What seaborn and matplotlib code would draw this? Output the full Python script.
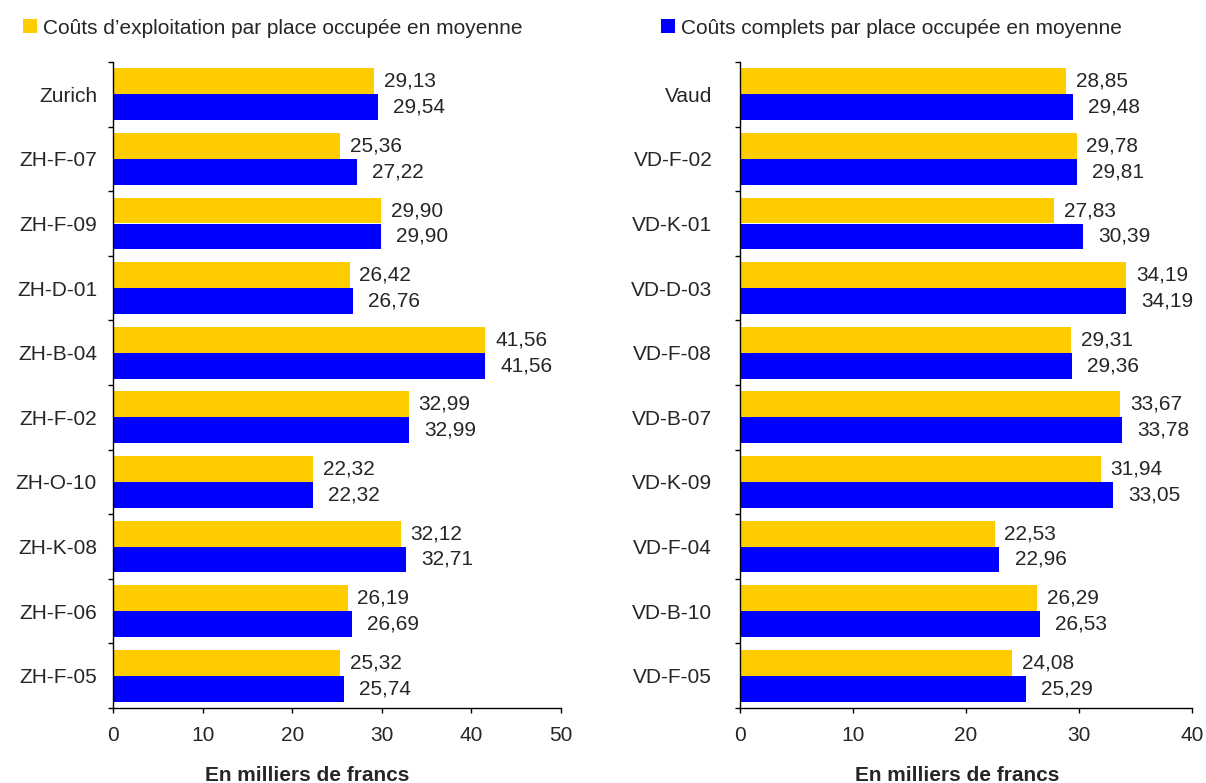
import matplotlib
matplotlib.use("Agg")
import matplotlib.pyplot as plt
from matplotlib.patches import Patch
from matplotlib.ticker import FixedLocator
import numpy as np
import pandas as pd
import seaborn as sns

# --- data (thousands of CHF per occupied place) ---
zh_sites = ["Zurich", "ZH-F-07", "ZH-F-09", "ZH-D-01", "ZH-B-04",
            "ZH-F-02", "ZH-O-10", "ZH-K-08", "ZH-F-06", "ZH-F-05"]
zh_exploitation = [29.13, 25.36, 29.90, 26.42, 41.56, 32.99, 22.32, 32.12, 26.19, 25.32]
zh_complets = [29.54, 27.22, 29.90, 26.76, 41.56, 32.99, 22.32, 32.71, 26.69, 25.74]

vd_sites = ["Vaud", "VD-F-02", "VD-K-01", "VD-D-03", "VD-F-08",
            "VD-B-07", "VD-K-09", "VD-F-04", "VD-B-10", "VD-F-05"]
vd_exploitation = [28.85, 29.78, 27.83, 34.19, 29.31, 33.67, 31.94, 22.53, 26.29, 24.08]
vd_complets = [29.48, 29.81, 30.39, 34.19, 29.36, 33.78, 33.05, 22.96, 26.53, 25.29]

series_names = ["Coûts d’exploitation par place occupée en moyenne",
                "Coûts complets par place occupée en moyenne"]
x_label = "En milliers de francs"
zh_ticks = [0, 10, 20, 30, 40, 50]
vd_ticks = [0, 10, 20, 30, 40]

YELLOW = "#FFCC00"
BLUE = "#0000FF"
FS = 15

sns.set_style("ticks")
plt.rcParams["font.family"] = ["Liberation Sans", "DejaVu Sans"]
plt.rcParams["axes.linewidth"] = 1.0

W, H = 1206, 783
fig = plt.figure(figsize=(W / 100, H / 100), dpi=100)

def long_frame(sites, a, b):
    return pd.DataFrame({
        "site": sites * 2,
        "value": a + b,
        "serie": [series_names[0]] * len(sites) + [series_names[1]] * len(sites),
    })

def draw_panel(ax, sites, a, b, ticks, label_pad):
    df = long_frame(sites, a, b)
    sns.barplot(data=df, y="site", x="value", hue="serie", orient="h",
                hue_order=series_names, palette=[YELLOW, BLUE],
                saturation=1, width=0.8, legend=False, linewidth=0, ax=ax)
    ax.set_xlim(ticks[0], ticks[-1])
    ax.set_ylim(len(sites) - 0.5, -0.5)
    ax.set_xticks(ticks)
    ax.set_xlabel("")
    ax.set_ylabel("")
    sns.despine(ax=ax)
    for s in ("left", "bottom"):
        ax.spines[s].set_color("black")
    ax.tick_params(axis="x", direction="out", length=3.8, width=1,
                   labelsize=FS, pad=9, color="black")
    ax.tick_params(axis="y", which="major", length=0, labelsize=FS, pad=label_pad)
    ax.yaxis.set_minor_locator(FixedLocator(np.arange(-0.5, len(sites), 1.0)))
    ax.tick_params(axis="y", which="minor", direction="out", length=3.8,
                   width=1, color="black")
    pads = [7, 11]
    for cont, vals, pad in zip(ax.containers, [a, b], pads):
        ax.bar_label(cont, labels=[f"{v:.2f}".replace(".", ",") for v in vals],
                     padding=pad, fontsize=FS)

ax1 = fig.add_axes([113 / W, 1 - 708 / H, 448 / W, 646 / H])
draw_panel(ax1, zh_sites, zh_exploitation, zh_complets, zh_ticks, 11.5)

ax2 = fig.add_axes([740 / W, 1 - 708 / H, 452 / W, 646 / H])
draw_panel(ax2, vd_sites, vd_exploitation, vd_complets, vd_ticks, 20)

# legends above each panel
for color, name, x0 in [(YELLOW, series_names[0], 23), (BLUE, series_names[1], 661)]:
    fig.legend(handles=[Patch(facecolor=color, edgecolor="none", label=name)],
               loc="center left", bbox_to_anchor=(x0 / W, 1 - 28 / H),
               frameon=False, borderpad=0, borderaxespad=0,
               handlelength=0.68, handleheight=0.68, handletextpad=0.3,
               fontsize=FS)

# axis titles
fig.text(307 / W, 2 / H, x_label, ha="center", va="baseline",
         fontsize=15, fontweight="bold")
fig.text(957 / W, 2 / H, x_label, ha="center", va="baseline",
         fontsize=15, fontweight="bold")

fig.savefig("out.png", dpi=100)
